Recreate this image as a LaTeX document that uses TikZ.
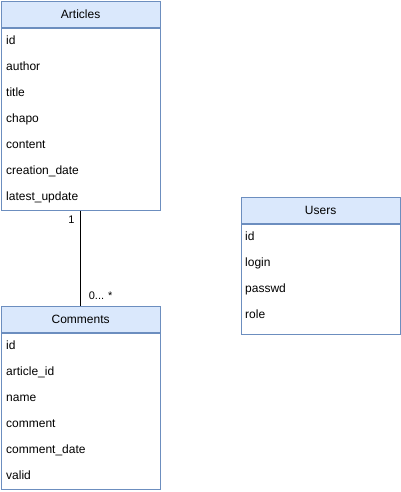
\documentclass[tikz,border=0pt]{standalone}
\usepackage{fontspec}
\setmainfont{Liberation Sans}
\usepackage{tikz}
\usetikzlibrary{positioning,calc}
\usepackage{xcolor}

\definecolor{headfill}{HTML}{DAE8FC}
\definecolor{boxline}{HTML}{6C8EBF}

\tikzset{
  tablehead/.style={draw=boxline, fill=headfill, line width=0.8pt,
    minimum width=159.5pt, minimum height=26pt, inner sep=0pt,
    anchor=north west, font=\fontsize{12}{14}\selectfont},
  tablebody/.style={draw=boxline, fill=white, line width=0.8pt,
    minimum width=159.5pt, inner sep=0pt, anchor=north},
  field/.style={anchor=west, inner sep=0pt, text height=9pt, text depth=3pt,
    font=\fontsize{12}{14}\selectfont},
  mult/.style={inner sep=0pt, font=\fontsize{11}{13}\selectfont}
}

\begin{document}
\begin{tikzpicture}[x=1pt, y=-1pt]
  \useasboundingbox (0,0) rectangle (401,492);

  % Articles
  \node[tablehead] (artHead) at (0.5,1) {Articles};
  \node[tablebody, minimum height=182pt, below=0pt of artHead] (artBody) {};
  \foreach \f [count=\i] in {id,author,title,chapo,content,creation\_date,latest\_update}
    \node[field] (art-\i) at ($(artBody.north west)+(5.5,14+26*\i-26)$) {\f};

  % Users
  \node[tablehead] (usrHead) at (240.5,197) {Users};
  \node[tablebody, minimum height=110pt, below=0pt of usrHead] (usrBody) {};
  \foreach \f [count=\i] in {id,login,passwd,role}
    \node[field] (usr-\i) at ($(usrBody.north west)+(4.5,14+26*\i-26)$) {\f};

  % Comments
  \node[tablehead] (comHead) at (0.5,306) {Comments};
  \node[tablebody, minimum height=156pt, below=0pt of comHead] (comBody) {};
  \foreach \f [count=\i] in {id,article\_id,name,comment,comment\_date,valid}
    \node[field] (com-\i) at ($(comBody.north west)+(5.5,14+26*\i-26)$) {\f};

  % relation
  \draw[line width=0.8pt] (artBody.south) -- (comHead.north);
  \node[mult, anchor=east] (oneLbl) at ($(artBody.south)+(-6,9)$) {1};
  \node[mult, anchor=west] (manyLbl) at ($(comHead.north)+(8,-10)$) {0... *};
\end{tikzpicture}
\end{document}
